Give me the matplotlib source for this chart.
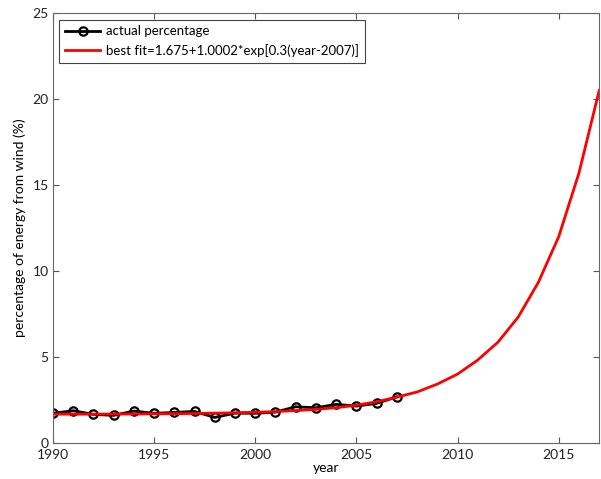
import matplotlib.pyplot as plt

# actual data
years_actual = list(range(1990, 2008))
pct_actual = [1.73, 1.88, 1.67, 1.61, 1.86, 1.73, 1.78, 1.84, 1.49, 1.74,
              1.73, 1.80, 2.11, 2.05, 2.25, 2.15, 2.31, 2.69]

years_fit = list(range(1990, 2018))
pct_fit = [1.68, 1.68, 1.68, 1.69, 1.69, 1.70, 1.71, 1.72, 1.74, 1.76,
           1.79, 1.83, 1.89, 1.96, 2.06, 2.20, 2.40, 2.67, 2.97, 3.43,
           4.01, 4.83, 5.87, 7.33, 9.36, 12.0, 15.7, 20.5]

plt.rcParams['font.family'] = ['Lato', 'DejaVu Sans']
plt.rcParams['font.size'] = 10

fig = plt.figure(figsize=(6.01, 4.79), dpi=100)
ax = fig.add_axes([0.088, 0.075, 0.909, 0.898])

ax.plot(years_actual, pct_actual, color='black', lw=2, marker='o',
        markersize=6, markerfacecolor='none', markeredgewidth=1.6,
        label='actual percentage')
ax.plot(years_fit, pct_fit, color='red', lw=2,
        label='best fit=1.675+1.0002*exp[0.3(year-2007)]')

ax.set_xlim(1990, 2017)
ax.set_ylim(0, 25)
ax.set_xticks(range(1990, 2016, 5))
ax.set_yticks(range(0, 26, 5))
ax.tick_params(direction='in', top=True, right=True, length=4,
               color='#555555', labelcolor='#222222')
ax.tick_params(axis='x', pad=4)
ax.tick_params(axis='y', pad=3)
for s in ax.spines.values():
    s.set_color('#666666')

ax.set_xlabel('year', labelpad=1)
ax.set_ylabel('percentage of energy from wind (%)', labelpad=5)

leg = ax.legend(loc='upper left', fancybox=False, framealpha=1,
                edgecolor='#444444', borderpad=0.45, handlelength=2.6,
                labelspacing=0.5, handletextpad=0.5, fontsize=9.5)
leg.get_frame().set_linewidth(0.8)

fig.savefig('out.png', dpi=100)
